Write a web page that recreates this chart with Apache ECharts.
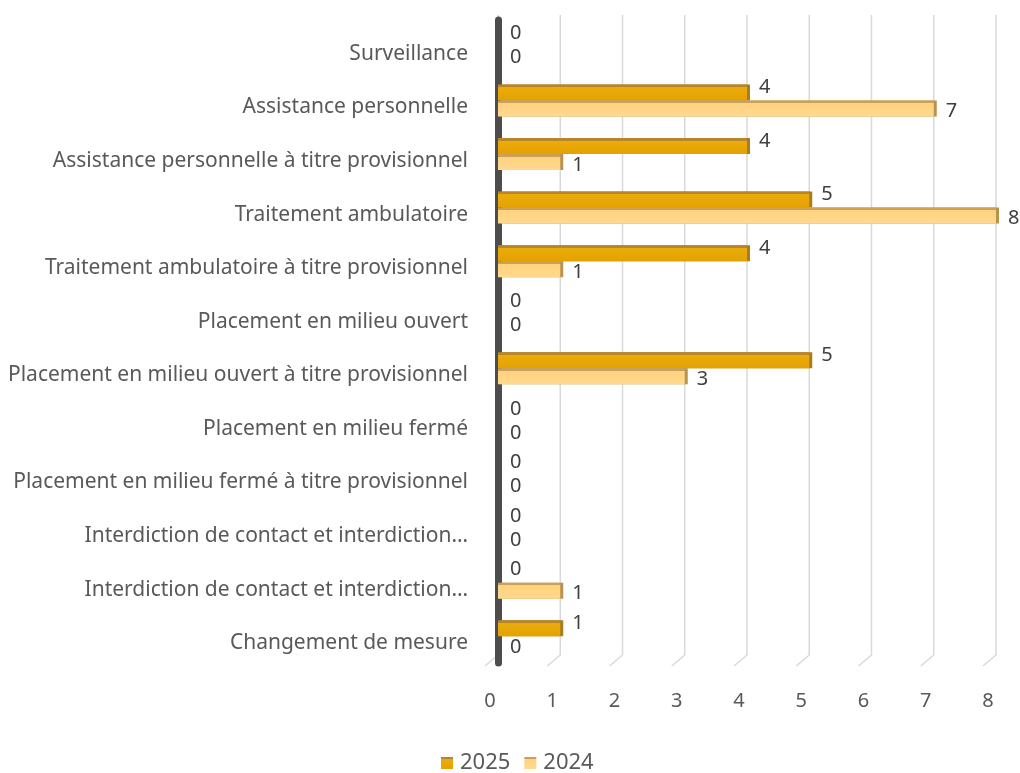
<!DOCTYPE html>
<html>
<head>
<meta charset="utf-8">
<script src="https://cdn.jsdelivr.net/npm/echarts@6/dist/echarts.min.js"></script>
<style>
html,body{margin:0;padding:0;background:#fff;}
#chart{width:1020px;height:773px;}
</style>
</head>
<body>
<div id="chart"></div>
<script>
const categories = [
  'Surveillance',
  'Assistance personnelle',
  'Assistance personnelle à titre provisionnel',
  'Traitement ambulatoire',
  'Traitement ambulatoire à titre provisionnel',
  'Placement en milieu ouvert',
  'Placement en milieu ouvert à titre provisionnel',
  'Placement en milieu fermé',
  'Placement en milieu fermé à titre provisionnel',
  'Interdiction de contact et interdiction…',
  'Interdiction de contact et interdiction…',
  'Changement de mesure'
];
const values2025 = [0, 4, 4, 5, 4, 0, 5, 0, 0, 0, 0, 1];
const values2024 = [0, 7, 1, 8, 1, 0, 3, 0, 0, 0, 1, 0];
const xTicks = [0, 1, 2, 3, 4, 5, 6, 7, 8];

const FONT = 'Noto Sans';
const chart = echarts.init(document.getElementById('chart'));

function face(top, main, bottom) {
  return {
    type: 'linear', x: 0, y: 0, x2: 0, y2: 1,
    colorStops: [
      {offset: 0, color: top}, {offset: 0.17, color: top},
      {offset: 0.17, color: main}, {offset: 1, color: bottom}
    ]
  };
}

chart.setOption({
  animation: false,
  backgroundColor: '#fff',
  textStyle: {fontFamily: FONT},
  grid: {left: 498, right: 24, top: 20, bottom: 110, containLabel: false},
  legend: {
    top: 747, left: 436,
    itemWidth: 12, itemHeight: 12, itemGap: 14,
    icon: 'rect',
    textStyle: {fontFamily: FONT, fontSize: 22, color: '#595959', padding: [0, 0, 0, 2]},
    data: ['2025', '2024']
  },
  xAxis: {
    type: 'value', min: 0, max: 8, interval: 1,
    axisLine: {show: false}, axisTick: {show: false},
    splitLine: {show: false},
    axisLabel: {
      fontFamily: FONT, fontSize: 20, color: '#595959', margin: 28,
      padding: [0, 16, 0, 0]
    }
  },
  yAxis: {
    type: 'category', inverse: true, data: categories,
    axisTick: {show: false},
    axisLine: {show: true, lineStyle: {color: '#4d4d4d', width: 7}},
    axisLabel: {
      fontFamily: FONT, fontSize: 21, color: '#595959', margin: 30,
      verticalAlign: 'top', lineHeight: 14, interval: 0
    }
  },
  series: [
    {
      type: 'custom', name: 'grid', silent: true, z: 0,
      data: xTicks.map(v => [v, 0]),
      encode: {x: 0, y: 1},
      renderItem: function (params, api) {
        const x = api.coord([api.value(0), 0])[0];
        const band = api.size([0, 1])[1];
        const yTop = api.coord([0, 0])[1] - band / 2 - 5;
        const yBot = api.coord([0, categories.length - 1])[1] + band / 2;
        return {
          type: 'polyline',
          shape: {points: [[x, yTop], [x, yBot - 8], [x - 13, yBot + 3]]},
          style: {stroke: '#d9d9d9', lineWidth: 1.5, fill: null}
        };
      }
    },
    {
      name: '2025', type: 'bar', data: values2025,
      barWidth: 16, barGap: '0%',
      itemStyle: {
        color: face('#b8862a', '#eaac0c', '#e4a200'),
        shadowColor: '#a97c1e', shadowOffsetX: 3, shadowBlur: 0
      },
      label: {
        show: true, position: 'right', distance: 12, offset: [0, -5],
        fontFamily: FONT, fontSize: 20, color: '#404040'
      }
    },
    {
      name: '2024', type: 'bar', data: values2024,
      barWidth: 16,
      itemStyle: {
        color: face('#c9a15a', '#ffd27e', '#ffd98f'),
        shadowColor: '#b89350', shadowOffsetX: 3, shadowBlur: 0
      },
      label: {
        show: true, position: 'right', distance: 12, offset: [0, 3],
        fontFamily: FONT, fontSize: 20, color: '#404040'
      }
    }
  ]
});
</script>
</body>
</html>
